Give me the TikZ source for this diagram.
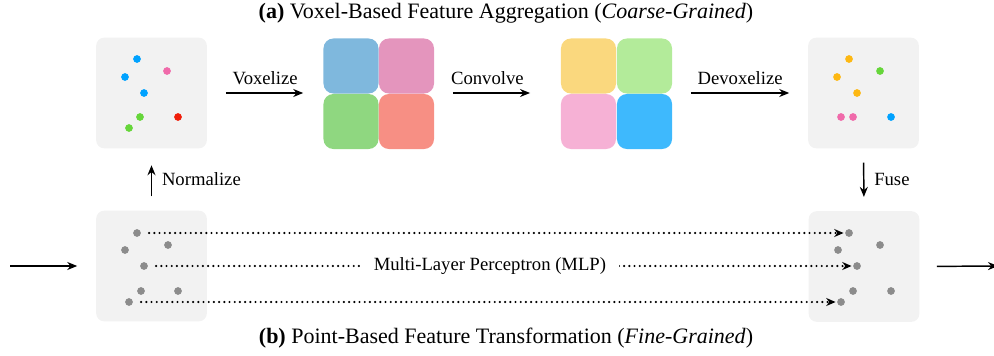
\documentclass[tikz,border=0pt]{standalone}
\usepackage{fontspec}
\setmainfont{Liberation Serif}
\usepackage{xcolor}
\usetikzlibrary{arrows.meta}
\definecolor{boxgray}{HTML}{F2F2F2}
\definecolor{ptblue}{HTML}{00A2FF}
\definecolor{ptpink}{HTML}{F06AAA}
\definecolor{ptred}{HTML}{F01E0A}
\definecolor{ptgreen}{HTML}{66D63A}
\definecolor{ptorange}{HTML}{FDB813}
\definecolor{ptgray}{HTML}{8C8C8C}
\definecolor{vblue}{HTML}{7FB8DD}
\definecolor{vpink}{HTML}{E495BD}
\definecolor{vgreen}{HTML}{8FD780}
\definecolor{vred}{HTML}{F78F84}
\definecolor{vyellow}{HTML}{FAD87E}
\definecolor{vlgreen}{HTML}{B3EB9A}
\definecolor{vlpink}{HTML}{F6B1D5}
\definecolor{vlblue}{HTML}{3EB9FD}
\tikzset{
  pbox/.style = {fill=boxgray, rounded corners=6pt, minimum size=83pt, inner sep=0pt},
  pt/.style = {circle, fill=#1, inner sep=0pt, minimum size=5.8pt},
  vox/.style = {fill=#1, rounded corners=7.5pt, minimum size=41.3pt, inner sep=0pt},
  arr/.style = {line width=1.1pt, -{Stealth[length=7.5pt,width=6pt]}},
  mlp/.style = {line width=1.8pt, line cap=round, dash pattern=on 0pt off 3.9pt, -{Stealth[length=7pt,width=6pt]}},
  lbl/.style = {font=\fontsize{14}{17}\selectfont},
  ttl/.style = {font=\fontsize{16.5}{19}\selectfont}
}
\begin{document}
\begin{tikzpicture}[x=0.75pt, y=-0.75pt]
\useasboundingbox (0,0) rectangle (994,356);
% titles
\node [ttl] (ta) at (506,13) {\textbf{(a)} Voxel-Based Feature Aggregation (\textit{Coarse-Grained})};
\node [ttl] (tb) at (506,338) {\textbf{(b)} Point-Based Feature Transformation (\textit{Fine-Grained})};
% point boxes
\node [pbox] (tl) at (151.5,93) {};
\node [pbox] (tr) at (863.5,93) {};
\node [pbox] (bl) at (151.5,266) {};
\node [pbox] (br) at (864,266.5) {};
% voxels
\node [vox=vblue] (va) at (351,66) {};
\node [vox=vpink] (vb) at (406.5,66) {};
\node [vox=vgreen] (vc) at (351,121.5) {};
\node [vox=vred] (vd) at (406.5,121.5) {};
\node [vox=vyellow] (wa) at (588.5,66) {};
\node [vox=vlgreen] (wb) at (644.5,66) {};
\node [vox=vlpink] (wc) at (588.5,121.5) {};
\node [vox=vlblue] (wd) at (644.5,121.5) {};
% points
\foreach \n/\x/\y/\c in {1/137/59/ptblue, 2/125/77/ptblue, 3/167/71/ptpink, 4/144/93/ptblue,
    5/140/117/ptgreen, 6/178/117/ptred, 7/129/128/ptgreen}
  \node [pt=\c] (a\n) at (\x,\y) {};
\foreach \n/\x/\y/\c in {1/849/59/ptorange, 2/837/77/ptorange, 3/880/71/ptgreen, 4/857/93/ptorange,
    5/841/117/ptpink, 6/853/117/ptpink, 7/891/117/ptblue}
  \node [pt=\c] (b\n) at (\x,\y) {};
\foreach \n/\x/\y in {1/137/233, 2/125/250, 3/168/245, 4/144/266, 5/141/291, 6/178/291, 7/129/302}
  \node [pt=ptgray] (p\n) at (\x,\y) {};
\foreach \n/\x/\y in {1/849/233, 2/838/250, 3/880/245, 4/857/266, 5/853/291, 6/891/291, 7/841/302}
  \node [pt=ptgray] (q\n) at (\x,\y) {};
% upper branch
\draw [arr, shorten <=14pt, shorten >=15pt] (tl.east) -- (tl.east -| va.west) node[midway, above=2pt, lbl] {Voxelize};
\draw [arr, shorten <=14pt, shorten >=23pt] (vb.east |- tl.east) -- (tl.east -| wa.west) node[pos=0.42, above=2pt, lbl] {Convolve};
\draw [arr, shorten <=14pt, shorten >=14pt] (wb.east |- tr.west) -- (tr.west) node[midway, above=2pt, lbl] {Devoxelize};
\draw [arr, shorten <=10.5pt, shorten >=12.5pt] (bl.north) -- (tl.south) node[midway, right=4pt, lbl] {Normalize};
\draw [arr, shorten <=10.5pt, shorten >=10.5pt] (tr.south) -- (br.north) node[midway, right=4pt, lbl] {Fuse};
% lower branch
\draw [mlp, shorten <=6pt, shorten >=1pt] (p1) -- (q1);
\draw [mlp, shorten <=6pt, shorten >=1pt] (p4) -- (q4) node[pos=0.485, fill=white, inner xsep=10pt, lbl] {Multi-Layer Perceptron (MLP)};
\draw [mlp, shorten <=6pt, shorten >=1pt] (p7) -- (q7);
% input / output
\coordinate (in) at (10,266);
\coordinate (out) at (998,266);
\draw [arr, shorten >=14pt] (in) -- (in -| bl.west);
\draw [arr, shorten <=13pt] (br.east) -- (out);
\end{tikzpicture}
\end{document}
